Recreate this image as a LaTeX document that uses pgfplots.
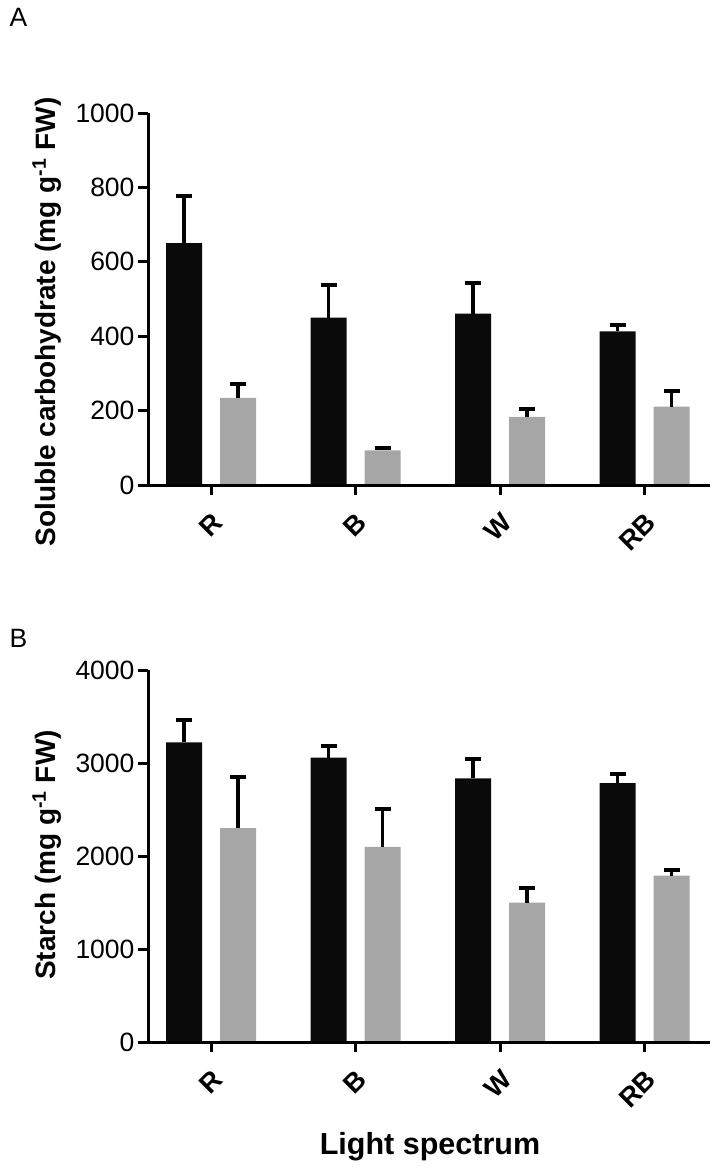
\documentclass[border=0pt]{standalone}
\usepackage{fontspec}
\setmainfont{Liberation Sans}
\usepackage{pgfplots}
\pgfplotsset{compat=1.18}
\definecolor{bargrey}{HTML}{A6A6A6}
\definecolor{barblack}{HTML}{0A0A0A}

\pgfplotsset{
 panel/.style={
  scale only axis, width=562pt, height=372pt,
  anchor=south west,
  xmin=-0.436, xmax=3.453, ymin=0,
  axis x line*=bottom, axis y line*=left,
  axis line style={line width=3pt,-},
  axis on top,
  tick align=outside, major tick length=10pt,
  tick style={line width=3pt, black},
  xtick={0,1,2,3}, xticklabels={R,B,W,RB},
  xticklabel style={rotate=45, anchor=north east, yshift=-8pt, xshift=-8pt, font=\bfseries\fontsize{27}{27}\selectfont},
  yticklabel style={font=\fontsize{26.5}{26.5}\selectfont},
  /pgf/number format/assume math mode=true,
  /pgf/number format/1000 sep={},
  ybar, bar width=36pt,
  error bars/y dir=plus, error bars/y explicit,
  error bars/error bar style={draw=black, line width=3.5pt},
  error bars/error mark options={draw=black, line width=4pt, mark size=8pt, rotate=90},
  clip=false,
 }
}

\begin{document}
\begin{tikzpicture}
\path[use as bounding box] (0pt,0pt) rectangle (718pt,-1168pt);

\node[anchor=base west, font=\fontsize{26.5}{26.5}\selectfont] at (6pt,-26pt) {A};
\node[anchor=base west, font=\fontsize{26.5}{26.5}\selectfont] at (6pt,-647pt) {B};

\node[rotate=90, anchor=base, font=\bfseries\fontsize{28}{28}\selectfont] at (55pt,-322pt) {Soluble carbohydrate (mg g\textsuperscript{-1} FW)};
\node[rotate=90, anchor=base, font=\bfseries\fontsize{28}{28}\selectfont] at (55pt,-855pt) {Starch (mg g\textsuperscript{-1} FW)};
\node[anchor=base, font=\bfseries\fontsize{30.5}{30.5}\selectfont] at (430pt,-1154pt) {Light spectrum};

\begin{axis}[panel, at={(148pt,-485pt)}, ymax=1000, ytick={0,200,...,1000}]
\addplot[fill=barblack, draw=none, bar shift=-27pt] coordinates {
 (0,650) +- (0,126)
 (1,450) +- (0,87)
 (2,461) +- (0,83)
 (3,413) +- (0,18)
};
\addplot[fill=bargrey, draw=none, bar shift=27pt] coordinates {
 (0,234) +- (0,38)
 (1,93) +- (0,6)
 (2,183) +- (0,20)
 (3,211) +- (0,41)
};
\end{axis}

\begin{axis}[panel, at={(148pt,-1042pt)}, ymax=4000, ytick={0,1000,...,4000}]
\addplot[fill=barblack, draw=none, bar shift=-27pt] coordinates {
 (0,3221) +- (0,241)
 (1,3057) +- (0,125)
 (2,2834) +- (0,208)
 (3,2784) +- (0,97)
};
\addplot[fill=bargrey, draw=none, bar shift=27pt] coordinates {
 (0,2300) +- (0,545)
 (1,2099) +- (0,409)
 (2,1500) +- (0,157)
 (3,1790) +- (0,58)
};
\end{axis}
\end{tikzpicture}
\end{document}
